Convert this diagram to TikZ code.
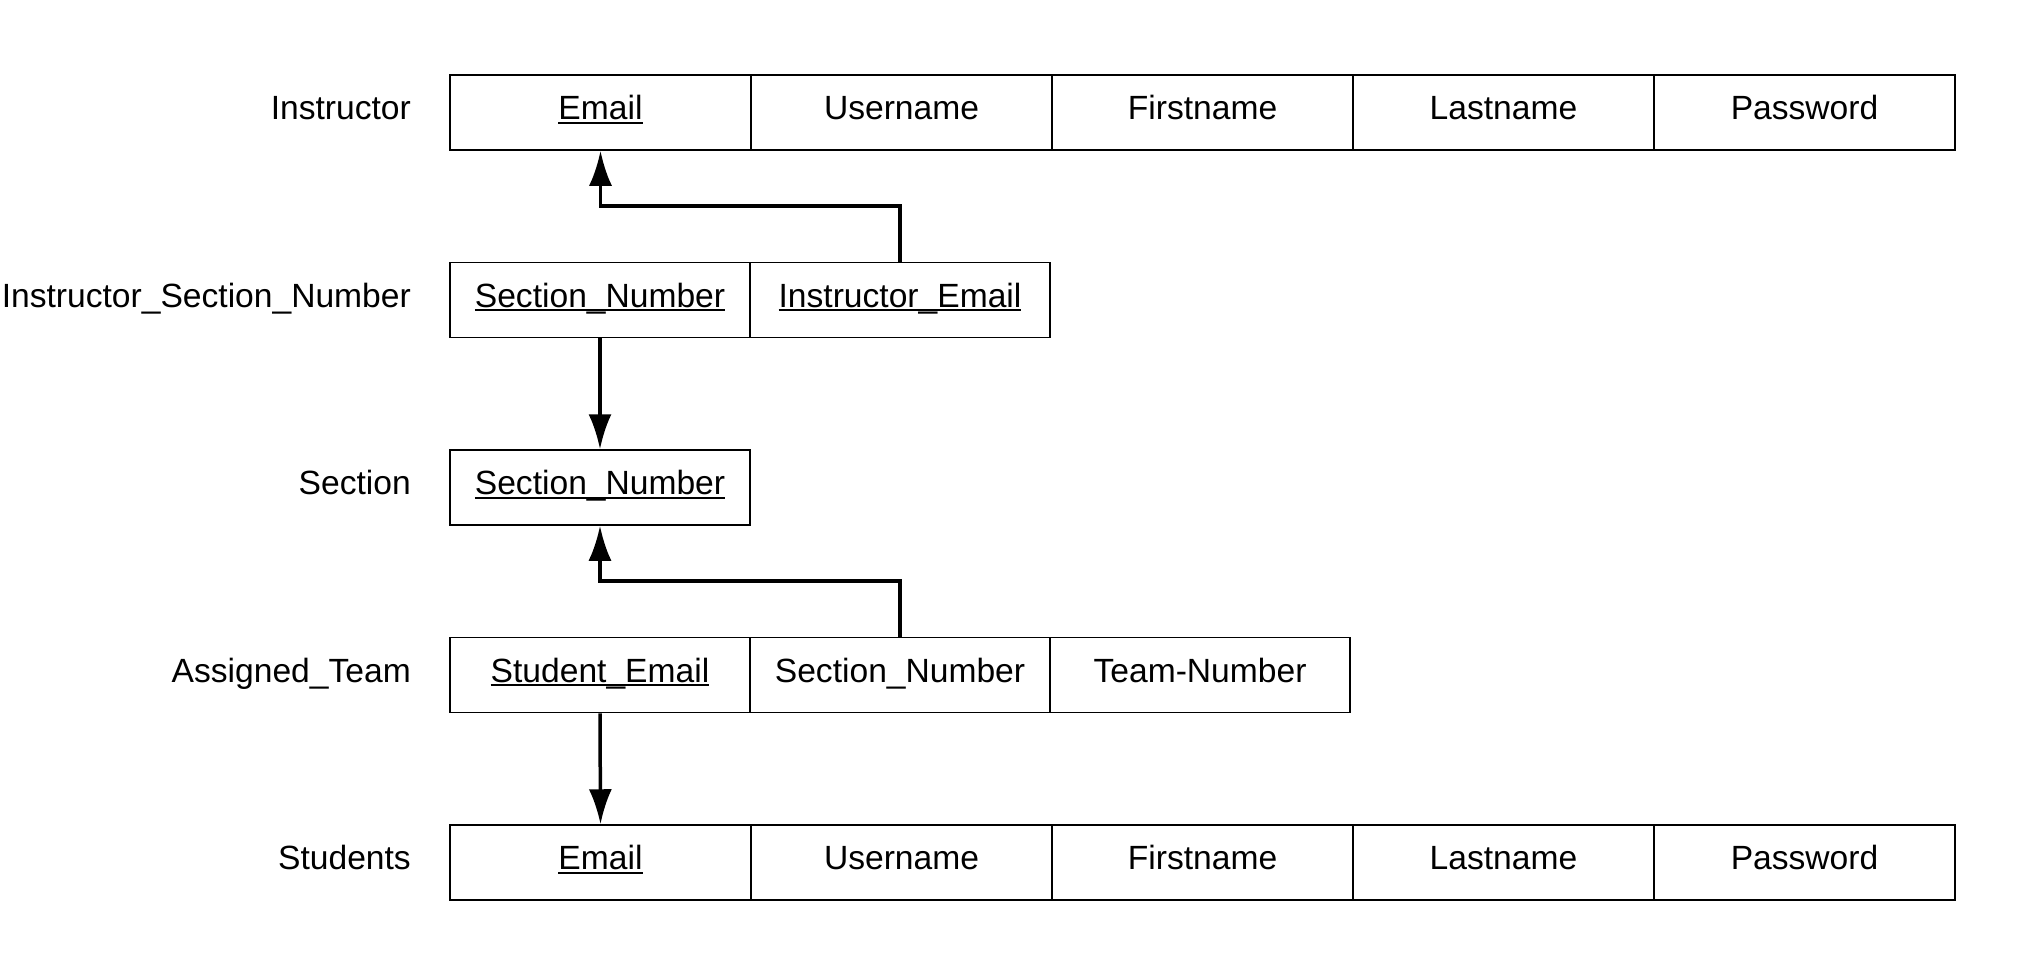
\documentclass[tikz,border=0pt]{standalone}
\usepackage{fontspec}
\setmainfont{Liberation Sans}
\usetikzlibrary{arrows.meta}
\newcommand{\keyul}[1]{\setbox0=\hbox{#1}\rlap{\rule[-4pt]{\wd0}{2pt}}\box0}
\begin{document}
\begin{tikzpicture}[x=1pt,y=-1pt,
  txt/.style={inner sep=0pt, text height=24pt, text depth=10pt, font=\fontsize{33.6}{40}\selectfont},
  cell/.style={txt, draw, line width=1.5pt, minimum height=75pt},
  cw/.style={cell, minimum width=301pt},
  cn/.style={cell, minimum width=300pt},
  rel/.style={txt, anchor=east},
  fk/.style={line width=3.5pt, -{Latex[length=35pt,width=23pt]}}]
\useasboundingbox (0,0) rectangle (2031,975);
% Instructor
\node[rel] (lI) at (411,112.5) {Instructor};
\node[cw] (i1) at (600.5,112.5) {\keyul{Email}};
\node[cw] (i2) at (901.5,112.5) {Username};
\node[cw] (i3) at (1202.5,112.5) {Firstname};
\node[cw] (i4) at (1503.5,112.5) {Lastname};
\node[cw] (i5) at (1804.5,112.5) {Password};
% Instructor_Section_Number
\node[rel] (lISN) at (411,300) {Instructor\_Section\_Number};
\node[cn] (isn1) at (600,300) {\keyul{Section\_Number}};
\node[cn] (isn2) at (900,300) {\keyul{Instructor\_Email}};
% Section
\node[rel] (lS) at (411,487.5) {Section};
\node[cn] (s1) at (600,487.5) {\keyul{Section\_Number}};
% Assigned_Team
\node[rel] (lAT) at (411,675) {Assigned\_Team};
\node[cn] (at1) at (600,675) {\keyul{Student\_Email}};
\node[cn] (at2) at (900,675) {Section\_Number};
\node[cn] (at3) at (1200,675) {Team-Number};
% Students
\node[rel] (lSt) at (411,862.5) {Students};
\node[cw] (st1) at (600.5,862.5) {\keyul{Email}};
\node[cw] (st2) at (901.5,862.5) {Username};
\node[cw] (st3) at (1202.5,862.5) {Firstname};
\node[cw] (st4) at (1503.5,862.5) {Lastname};
\node[cw] (st5) at (1804.5,862.5) {Password};
% foreign keys
\draw[fk] (isn2.north) -- ++(0,-56) -| (i1.south);
\draw[fk] (isn1.south) -- (s1.north);
\draw[fk] (at2.north) -- ++(0,-56) -| (s1.south);
\draw[fk] (at1.south) -- (st1.north);
\end{tikzpicture}
\end{document}
